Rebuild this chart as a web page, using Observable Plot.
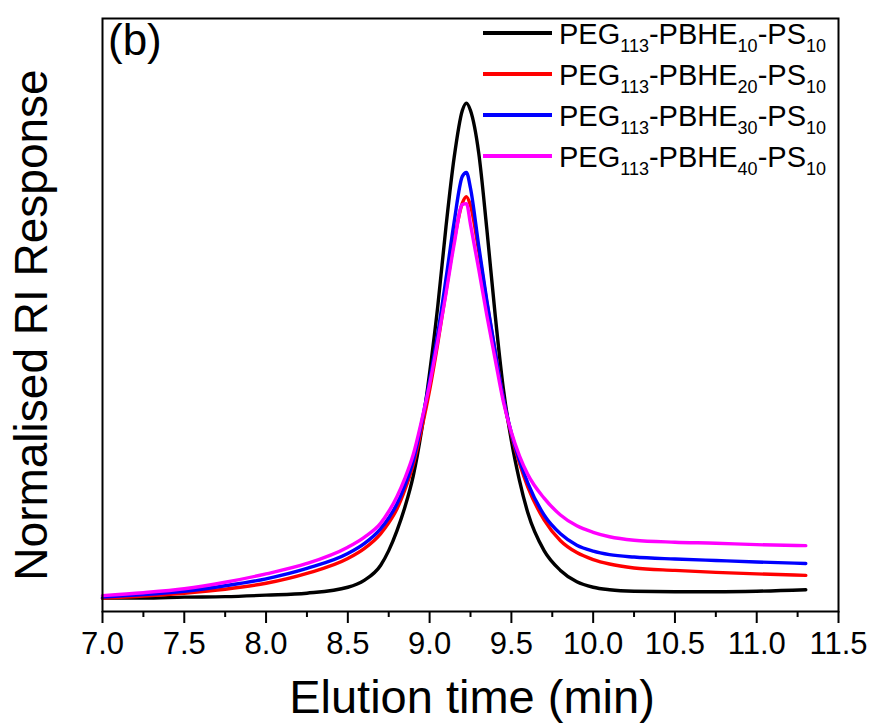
<!DOCTYPE html>
<html>
<head>
<meta charset="utf-8">
<script src="https://cdn.jsdelivr.net/npm/d3@7"></script>
<script src="https://cdn.jsdelivr.net/npm/@observablehq/plot@0.6"></script>
<style>
  html, body { margin: 0; padding: 0; background: #fff; }
  #chart { width: 874px; height: 725px; }
</style>
</head>
<body>
<div id="chart"></div>
<script>
// Elution time (min)
const time = [7.0, 7.25, 7.5, 7.75, 8.0, 8.25, 8.5, 8.6, 8.7, 8.75, 8.8, 8.85, 8.9, 8.95, 9.0, 9.05, 9.1, 9.15, 9.2, 9.225, 9.25, 9.3, 9.35, 9.4, 9.45, 9.5, 9.55, 9.6, 9.7, 9.8, 9.9, 10.0, 10.1, 10.25, 10.5, 10.75, 11.0, 11.3];
// Normalised RI response of each copolymer
const pbhe10 = [0.000, 0.000, 0.002, 0.003, 0.006, 0.010, 0.022, 0.036, 0.066, 0.096, 0.136, 0.185, 0.247, 0.337, 0.455, 0.590, 0.750, 0.890, 0.985, 1.000, 0.985, 0.900, 0.745, 0.575, 0.425, 0.318, 0.237, 0.173, 0.096, 0.056, 0.033, 0.022, 0.017, 0.014, 0.013, 0.013, 0.014, 0.017];
const pbhe20 = [0.000, 0.004, 0.010, 0.018, 0.030, 0.050, 0.080, 0.100, 0.130, 0.152, 0.180, 0.220, 0.270, 0.340, 0.420, 0.515, 0.620, 0.722, 0.798, 0.811, 0.793, 0.702, 0.597, 0.500, 0.405, 0.330, 0.272, 0.225, 0.158, 0.116, 0.092, 0.078, 0.069, 0.061, 0.056, 0.052, 0.049, 0.046];
const pbhe30 = [0.002, 0.007, 0.014, 0.025, 0.039, 0.060, 0.090, 0.110, 0.140, 0.162, 0.190, 0.229, 0.278, 0.352, 0.440, 0.535, 0.645, 0.760, 0.852, 0.860, 0.828, 0.712, 0.601, 0.500, 0.405, 0.333, 0.278, 0.233, 0.168, 0.130, 0.107, 0.095, 0.088, 0.083, 0.079, 0.076, 0.073, 0.070];
const pbhe40 = [0.005, 0.011, 0.019, 0.032, 0.049, 0.070, 0.103, 0.123, 0.151, 0.175, 0.205, 0.243, 0.290, 0.357, 0.432, 0.520, 0.615, 0.715, 0.795, 0.797, 0.755, 0.665, 0.571, 0.484, 0.398, 0.335, 0.287, 0.250, 0.202, 0.168, 0.146, 0.133, 0.124, 0.117, 0.113, 0.111, 0.108, 0.106];

const seriesValues = [pbhe10, pbhe20, pbhe30, pbhe40];
const seriesColors = ["#000000", "#ff0000", "#0000ff", "#ff00ff"];
// legend labels: [main, sub, main, sub, main, sub]
const legendParts = [
  ["PEG", "113", "-PBHE", "10", "-PS", "10"],
  ["PEG", "113", "-PBHE", "20", "-PS", "10"],
  ["PEG", "113", "-PBHE", "30", "-PS", "10"],
  ["PEG", "113", "-PBHE", "40", "-PS", "10"]
];
const majorTicks = [7.0, 7.5, 8.0, 8.5, 9.0, 9.5, 10.0, 10.5, 11.0, 11.5];
const minorTicks = [7.25, 7.75, 8.25, 8.75, 9.25, 9.75, 10.25, 10.75, 11.25];
const xTitle = "Elution time (min)";
const yTitle = "Normalised RI Response";
const panelLabel = "(b)";

const FONT = "'Liberation Sans', Arial, Helvetica, sans-serif";

const lineMarks = seriesValues.map((vals, i) =>
  Plot.line(time.map((t, j) => ({t, v: vals[j]})), {
    x: "t", y: "v", stroke: seriesColors[i], strokeWidth: 3.4, curve: "monotone-x"
  })
);

const chart = Plot.plot({
  width: 874,
  height: 725,
  marginLeft: 102,
  marginRight: 36,
  marginTop: 18,
  marginBottom: 114,
  style: {fontFamily: FONT, fontSize: "31px", color: "#000", background: "#fff"},
  x: {domain: [7, 11.5]},
  y: {domain: [-0.027, 1.171], axis: null},
  marks: [
    ...lineMarks,
    Plot.axisX(minorTicks, {tickSize: 6, tickFormat: () => "", strokeWidth: 2, label: null}),
    Plot.axisX(majorTicks, {tickSize: 12, tickPadding: 8, tickFormat: d3.format(".1f"), strokeWidth: 2, label: null}),
    Plot.frame({stroke: "#000", strokeWidth: 2})
  ]
});

document.getElementById("chart").appendChild(chart);

const svg = d3.select(chart);
const g = svg.append("g").attr("font-family", FONT).attr("fill", "#000").attr("text-anchor", "start");

// panel label
g.append("text").attr("x", 108).attr("y", 55).attr("font-size", 44).text(panelLabel);

// x title
g.append("text").attr("x", 472).attr("y", 713).attr("font-size", 47)
  .attr("text-anchor", "middle").text(xTitle);

// y title
g.append("text").attr("transform", "translate(47,325) rotate(-90)")
  .attr("font-size", 46).attr("text-anchor", "middle").text(yTitle);

// legend
const legendY = [33, 74, 115, 156];
legendParts.forEach((parts, i) => {
  const y = legendY[i];
  g.append("line").attr("x1", 483).attr("x2", 552).attr("y1", y).attr("y2", y)
    .attr("stroke", seriesColors[i]).attr("stroke-width", 4);
  const t = g.append("text").attr("x", 559).attr("y", y + 10.5).attr("font-size", 29)
    .attr("text-anchor", "start");
  parts.forEach((p, k) => {
    if (k % 2 === 0) {
      t.append("tspan").attr("font-size", 29).attr("dy", k === 0 ? 0 : -8).text(p);
    } else {
      t.append("tspan").attr("font-size", 18).attr("dy", 8).text(p);
    }
  });
});
</script>
</body>
</html>
